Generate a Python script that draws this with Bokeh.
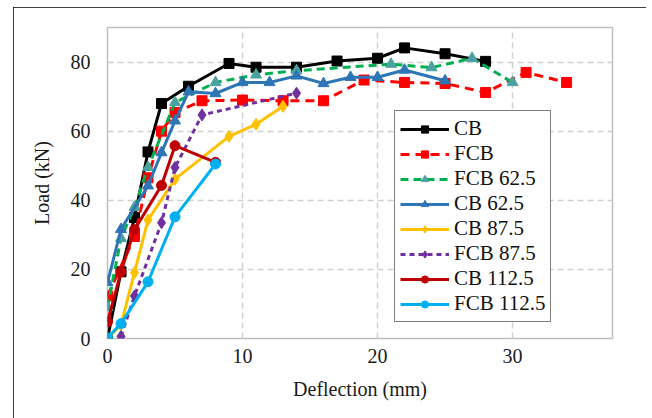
from bokeh.plotting import figure
from bokeh.models import ColumnDataSource, Legend, LegendItem, Range1d, FixedTicker
from bokeh.embed import file_html
from bokeh.resources import INLINE

# ---- data ----
cb_x = [0, 1, 2, 3, 4, 6, 9, 11, 14, 17, 20, 22, 25, 28]
cb_y = [0, 19.3, 35, 54, 68, 73, 79.6, 78.5, 78.5, 80.3, 81.1, 84.1, 82.4, 80.2]

fcb_x = [0, 2, 3, 4, 5, 7, 10, 13, 16, 19, 22, 25, 28, 31, 34]
fcb_y = [12.3, 29.5, 46.5, 60, 65.4, 68.8, 69, 68.8, 68.8, 74.8, 74.1, 73.8, 71.2, 77, 74.1]

fcb625_x = [0, 1, 2, 3, 5, 8, 11, 14, 21, 24, 27, 30]
fcb625_y = [9, 29, 38, 49.5, 68.3, 74.1, 76.3, 77.5, 79.4, 78.4, 81.1, 74.1]

cb625_x = [0, 1, 3, 4, 5, 6, 8, 10, 12, 14, 16, 18, 20, 22, 25]
cb625_y = [16.2, 31.6, 44.2, 53.8, 63, 71.4, 70.9, 74.1, 74.1, 76, 73.8, 75.6, 75.6, 77.7, 74.6]

cb875_x = [0, 1, 2, 3, 5, 9, 11, 13]
cb875_y = [0, 4, 19.1, 34.3, 46.1, 58.5, 62, 67.2]

fcb875_x = [1, 2, 4, 5, 7, 14]
fcb875_y = [0.6, 12.3, 33.5, 49.5, 64.7, 71]

cb1125_x = [0, 1, 2, 4, 5, 8]
cb1125_y = [4.8, 19.3, 31.5, 44.3, 55.8, 51]

fcb1125_x = [0, 1, 3, 5, 8]
fcb1125_y = [0.2, 4.3, 16.4, 35.2, 50.5]

series_names = ["CB", "FCB", "FCB 62.5", "CB 62.5", "CB 87.5", "FCB 87.5", "CB 112.5", "FCB 112.5"]
x_ticks = [0, 10, 20, 30]
y_ticks = [0, 20, 40, 60, 80]

series = [
    (cb_x, cb_y, "#000000", "#000000", "solid", "square", 10),
    (fcb_x, fcb_y, "#FF0000", "#FF0000", "9 6", "square", 10),
    (fcb625_x, fcb625_y, "#00B050", "#4AA3A0", "8 5", "triangle", 11),
    (cb625_x, cb625_y, "#2E75B6", "#2E75B6", "solid", "triangle", 11),
    (cb875_x, cb875_y, "#FFC000", "#FFC000", "solid", "diamond", 12),
    (fcb875_x, fcb875_y, "#7030A0", "#7030A0", "5 4", "diamond", 12),
    (cb1125_x, cb1125_y, "#C00000", "#C00000", "solid", "circle", 10),
    (fcb1125_x, fcb1125_y, "#00B0F0", "#00B0F0", "solid", "circle", 10),
]

SERIF = "Liberation Serif"

# canvas placed at (13, 7) inside the window; outline drawn by CSS
p = figure(width=633, height=425, output_backend="svg", toolbar_location=None,
           x_range=Range1d(0, 37.4), y_range=Range1d(0, 90),
           min_border_left=94, min_border_right=34, min_border_top=20, min_border_bottom=94,
           margin=(7, 0, 0, 13))
p.styles = {"outline": "2px solid black", "outline-offset": "-2px"}
p.background_fill_color = "white"
p.border_fill_color = "white"
p.outline_line_color = "#BFBFBF"
p.outline_line_width = 1.5

for ax in (p.xaxis[0], p.yaxis[0]):
    ax.axis_line_color = None
    ax.major_tick_line_color = None
    ax.minor_tick_line_color = None
    ax.major_label_text_font = SERIF
    ax.major_label_text_font_size = "20px"
    ax.major_label_text_color = "#1a1a1a"
    ax.axis_label_text_font = SERIF
    ax.axis_label_text_font_size = "20px"
    ax.axis_label_text_font_style = "normal"
    ax.axis_label_text_color = "#1a1a1a"
    ax.major_tick_out = 0
    ax.major_tick_in = 0

p.xaxis.ticker = FixedTicker(ticks=x_ticks)
p.yaxis.ticker = FixedTicker(ticks=y_ticks)
p.xaxis.axis_label = "Deflection (mm)"
p.yaxis.axis_label = "Load (kN)"
p.xaxis.major_label_standoff = 10
p.yaxis.major_label_standoff = 17
p.xaxis.axis_label_standoff = 12
p.yaxis.axis_label_standoff = 15

for g in (p.xgrid[0], p.ygrid[0]):
    g.grid_line_color = "#D0D0D0"
    g.grid_line_dash = "6 4"
    g.grid_line_width = 1.5

items = []
for name, (xs, ys, lc, mc, dash, marker, size) in zip(series_names, series):
    src = ColumnDataSource(data=dict(x=xs, y=ys))
    r1 = p.line("x", "y", source=src, line_color=lc, line_width=3, line_dash=dash)
    r2 = p.scatter("x", "y", source=src, marker=marker, size=size,
                   fill_color=mc, line_color=mc)
    items.append(LegendItem(label=name, renderers=[r1, r2]))

legend = Legend(items=items, location=(287, 16))
legend.label_text_font = SERIF
legend.label_text_font_size = "21px"
legend.label_text_color = "#111111"
legend.glyph_width = 49
legend.glyph_height = 18
legend.label_height = 18
legend.spacing = 0
legend.padding = 5
legend.margin = 0
legend.label_standoff = 5
legend.border_line_color = "black"
legend.border_line_width = 1.5
legend.background_fill_color = "white"
legend.background_fill_alpha = 1
p.add_layout(legend, "center")

open("out.html", "w").write(file_html(p, INLINE))
